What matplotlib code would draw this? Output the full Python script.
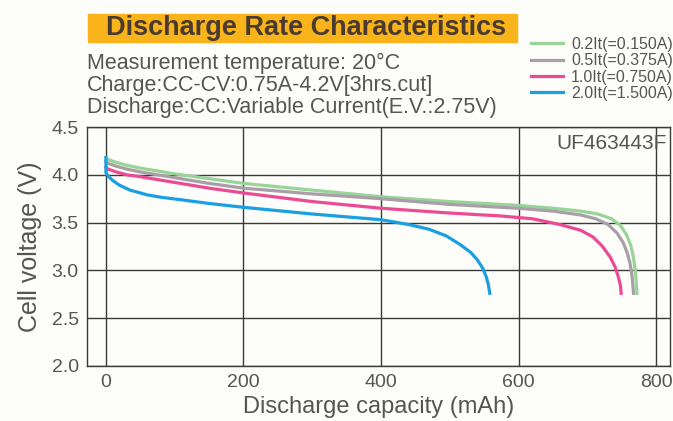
import matplotlib
matplotlib.use("Agg")
import matplotlib.pyplot as plt
from matplotlib.patches import Rectangle

plt.rcParams['font.family'] = ['Liberation Sans', 'DejaVu Sans']

# discharge curves (mAh, V)
cap_02 = [0, 3, 15, 30, 50, 75, 100, 150, 200, 300, 400, 500, 600, 650, 690, 715, 735, 748, 757, 763, 767, 770, 772]
volt_02 = [4.18, 4.16, 4.13, 4.10, 4.07, 4.04, 4.01, 3.96, 3.91, 3.84, 3.77, 3.72, 3.68, 3.65, 3.62, 3.59,
           3.54, 3.47, 3.37, 3.26, 3.13, 2.97, 2.76]

cap_05 = [0, 3, 15, 30, 50, 75, 100, 150, 200, 300, 400, 500, 600, 650, 690, 712, 730, 743, 752, 758, 762, 765, 767]
volt_05 = [4.14, 4.12, 4.09, 4.06, 4.03, 4.00, 3.97, 3.91, 3.86, 3.80, 3.75, 3.69, 3.65, 3.62, 3.58, 3.54,
           3.48, 3.39, 3.29, 3.18, 3.07, 2.93, 2.76]

cap_10 = [0, 3, 15, 30, 50, 75, 100, 150, 200, 300, 400, 500, 573, 620, 660, 690, 708, 722, 733, 740, 745, 748, 749]
volt_10 = [4.08, 4.06, 4.03, 4.00, 3.98, 3.95, 3.92, 3.86, 3.81, 3.72, 3.65, 3.60, 3.57, 3.54, 3.48, 3.42,
           3.35, 3.25, 3.14, 3.04, 2.93, 2.84, 2.76]

cap_20 = [0, 0, 4, 10, 20, 35, 60, 80, 108, 150, 200, 300, 400, 440, 470, 495, 515, 530, 540, 548, 553, 556, 558]
volt_20 = [4.18, 4.02, 3.98, 3.94, 3.89, 3.84, 3.79, 3.765, 3.74, 3.70, 3.66, 3.59, 3.53, 3.48, 3.43, 3.36,
           3.27, 3.19, 3.11, 3.02, 2.93, 2.85, 2.76]

labels = ['0.2It(=0.150A)', '0.5It(=0.375A)', '1.0It(=0.750A)', '2.0It(=1.500A)']
colors = ['#98d498', '#a89fa8', '#ec4a93', '#1a9fe2']

x_ticks = [0, 200, 400, 600, 800]
y_ticks = [2.0, 2.5, 3.0, 3.5, 4.0, 4.5]

txt = '#555555'
bg = '#fdfdf9'

fig = plt.figure(figsize=(6.73, 4.21), dpi=100, facecolor=bg)
ax = fig.add_axes([87/673, 1 - 366/421, (670-87)/673, (366-127)/421])
ax.set_facecolor(bg)

series = [(cap_02, volt_02), (cap_05, volt_05), (cap_10, volt_10), (cap_20, volt_20)]
for (c, v), lab, col in zip(series, labels, colors):
    ax.plot(c, v, color=col, lw=2.3, label=lab, solid_joinstyle='round', zorder=3)

ax.set_xlim(-27.5, 820)
ax.set_ylim(2.0, 4.5)
ax.set_xticks(x_ticks)
ax.set_yticks(y_ticks)
ax.set_yticklabels([f'{t:.1f}' for t in y_ticks])
ax.grid(True, color='#3a3a3a', lw=1.0)
ax.tick_params(length=0, labelsize=14, labelcolor=txt, pad=6)
for s in ax.spines.values():
    s.set_color('#3a3a3a')
    s.set_linewidth(1.0)

ax.set_xlabel('Discharge capacity (mAh)', fontsize=17, color=txt, labelpad=3)
ax.set_ylabel('Cell voltage (V)', fontsize=18, color=txt, labelpad=7)

ax.text(0.995, 0.93, 'UF463443F', transform=ax.transAxes, ha='right', va='center',
        fontsize=15, color=txt, zorder=4)

# title box
fig.patches.append(Rectangle((88/673, 1 - 42/421), (517-88)/673, 28/421,
                             transform=fig.transFigure, color='#f8b41a', zorder=0))
fig.text(306/673, 1 - 28/421, 'Discharge Rate Characteristics', ha='center', va='center',
         fontsize=19.5, fontweight='bold', color='#4a3b30')

sub = ['Measurement temperature: 20°C',
       'Charge:CC-CV:0.75A-4.2V[3hrs.cut]',
       'Discharge:CC:Variable Current(E.V.:2.75V)']
for i, s in enumerate(sub):
    fig.text(87/673, 1 - (63 + 22*i)/421, s, ha='left', va='center', fontsize=15.5, color=txt)

handles, labs = ax.get_legend_handles_labels()
leg = fig.legend(handles, labs, loc='upper right', bbox_to_anchor=(1.0, 1 - 37/421),
                 frameon=False, fontsize=11.5, labelcolor=txt, handlelength=2.0,
                 handletextpad=0.5, labelspacing=0.08, borderaxespad=0, borderpad=0)

fig.savefig('out.png', dpi=100, facecolor=bg)
